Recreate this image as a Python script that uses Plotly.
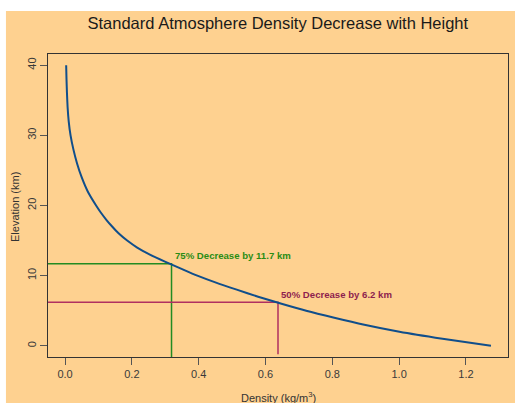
import plotly.graph_objects as go

# Data
height_km = [0, 1, 2, 3, 4, 5, 6, 7, 8, 9, 10, 11, 12, 13, 14, 15, 16, 17, 18, 19, 20,
             22, 24, 26, 28, 30, 32, 34, 36, 38, 40]
density = [1.275, 1.130, 1.001, 0.896, 0.806, 0.722, 0.648, 0.578, 0.514, 0.452, 0.396,
           0.347, 0.299, 0.254, 0.216, 0.186, 0.161, 0.141, 0.123, 0.107, 0.093,
           0.068, 0.050, 0.036, 0.025, 0.0165, 0.011, 0.0077, 0.0058, 0.0044, 0.0034]

decrease_labels = ["75% Decrease by 11.7 km", "50% Decrease by 6.2 km"]
decrease_heights = [11.7, 6.2]
decrease_density = [0.25 * 1.275, 0.5 * 1.275]
decrease_bottoms = [-1.6, -1.2]
decrease_colors = ["#228B22", "#B03060"]
decrease_text_colors = ["#2A8C14", "#8E1E4E"]

x_ticks = [0.0, 0.2, 0.4, 0.6, 0.8, 1.0, 1.2]
y_ticks = [0, 10, 20, 30, 40]

# R-style 4% axis extension
xmin, xmax = min(density), max(density)
ymin, ymax = min(height_km), max(height_km)
xr = [0 - 0.04 * (xmax - 0), xmax + 0.04 * (xmax - 0)]
yr = [ymin - 0.04 * (ymax - ymin), ymax + 0.04 * (ymax - ymin)]

BG = "#FED190"
FONT = "Liberation Sans, Arial, sans-serif"

fig = go.Figure()

for lab, h, d, yb, c in zip(decrease_labels, decrease_heights, decrease_density,
                            decrease_bottoms, decrease_colors):
    fig.add_trace(go.Scatter(x=[xr[0], d, d], y=[h, h, yb], mode="lines",
                             line=dict(color=c, width=1.5), hoverinfo="skip",
                             showlegend=False, cliponaxis=False))

fig.add_trace(go.Scatter(x=density, y=height_km, mode="lines",
                         line=dict(color="#104E8B", width=2, shape="spline", smoothing=0.6),
                         showlegend=False))

for lab, h, d, c in zip(decrease_labels, decrease_heights, decrease_density,
                        decrease_text_colors):
    fig.add_annotation(x=d + 0.003, y=h + 1.15, text="<b>" + lab + "</b>",
                       xref="x", yref="y", xanchor="left", yanchor="middle",
                       showarrow=False, font=dict(size=9.6, color=c, family=FONT))

axis_common = dict(showline=True, linecolor="#333333", linewidth=1, mirror=True,
                   ticks="outside", ticklen=7, tickcolor="#555555", tickwidth=1,
                   showgrid=False, zeroline=False,
                   tickfont=dict(size=11, color="#3a3a3a", family=FONT))

fig.update_xaxes(range=xr, tickvals=x_ticks, tickformat=".1f", **axis_common)
fig.update_yaxes(range=yr, tickvals=y_ticks, tickangle=-90, **axis_common)

# axis titles
fig.add_annotation(x=0.5, y=-0.133, xref="paper", yref="paper",
                   text="Density (kg/m<sup>3</sup>)", showarrow=False,
                   xanchor="center", yanchor="middle",
                   font=dict(size=11, color="#333333", family=FONT))
fig.add_annotation(x=-0.0718, y=0.495, xref="paper", yref="paper",
                   text="Elevation (km)", showarrow=False, textangle=-90,
                   xanchor="center", yanchor="middle",
                   font=dict(size=11, color="#333333", family=FONT))

# orange background (white strips at top and left)
fig.add_shape(type="rect", xref="paper", yref="paper", x0=-0.0914, x1=1.2,
              y0=-0.4, y1=1.142, fillcolor=BG, line=dict(width=0), layer="below")

fig.update_layout(
    width=515, height=403,
    margin=dict(l=48, r=7, t=54, b=46),
    paper_bgcolor="white", plot_bgcolor=BG,
    title=dict(text="Standard Atmosphere Density Decrease with Height",
               x=277.8 / 515, xanchor="center", y=1 - 23 / 403, yanchor="middle",
               font=dict(size=16.5, color="#1a1a1a", family=FONT)),
    showlegend=False,
)

fig.write_html("out.html", config={"displayModeBar": False},
               post_script="document.body.style.margin='0';document.body.style.overflow='hidden';")
